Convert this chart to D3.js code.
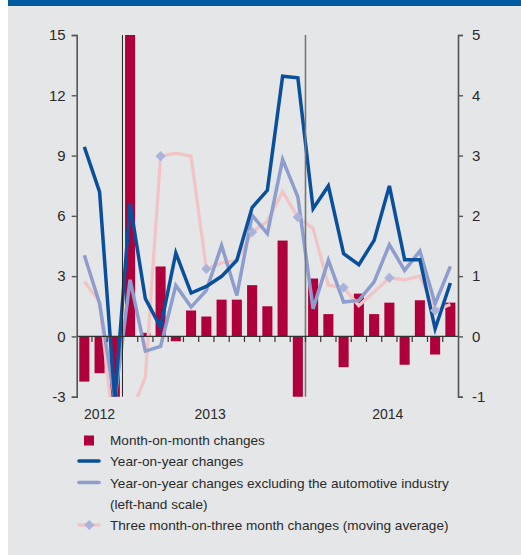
<!DOCTYPE html>
<html><head><meta charset="utf-8">
<script src="https://cdn.jsdelivr.net/npm/d3@7"></script>
<style>
html,body{margin:0;padding:0;background:#fff;}
svg{display:block;font-family:"Liberation Sans",Arial,sans-serif;}
</style></head>
<body>
<svg id="c" width="521" height="555"></svg>
<script>
const months = ["2012-10","2012-11","2012-12",
  "2013-01","2013-02","2013-03","2013-04","2013-05","2013-06","2013-07","2013-08","2013-09","2013-10","2013-11","2013-12",
  "2014-01","2014-02","2014-03","2014-04","2014-05","2014-06","2014-07","2014-08","2014-09","2014-10"];
// month-on-month changes (right-hand scale)
const momValues = [-0.75,-0.61,-1.05,5.3,0.06,1.16,-0.08,0.43,0.33,0.61,0.61,0.85,0.50,1.59,-1.01,0.96,0.37,-0.51,0.71,0.37,0.56,-0.47,0.60,-0.30,0.56];
// year-on-year changes (left-hand scale)
const yoyValues = [9.43,7.19,-3.2,6.6,1.88,0.46,4.15,2.16,2.49,2.99,3.79,6.41,7.27,12.95,12.87,6.36,7.49,4.12,3.57,4.78,7.49,3.82,3.82,0.38,2.66];
// year-on-year excluding automotive (left-hand scale)
const yoyExAutoValues = [4.04,1.64,-3.2,2.82,-0.73,-0.5,2.54,1.46,2.29,4.53,2.04,6.03,5.12,8.8,6.94,1.38,3.79,1.71,1.79,2.71,4.57,3.29,4.25,1.63,3.49];
// three month-on-three month changes (right-hand scale)
const threeMonthValues = [0.91,0.57,-1.74,-1.3,-0.68,2.99,3.04,2.99,1.12,1.22,1.26,1.73,1.91,2.40,1.98,1.79,0.85,0.81,0.51,0.74,0.97,0.94,1.00,0.43,0.53];
const diamondMonths = ["2012-12","2013-03","2013-06","2013-09","2013-12","2014-03","2014-06","2014-09"];
const leftTicks = [-3,0,3,6,9,12,15];
const rightTicks = [-1,0,1,2,3,4,5];
const yearLabels = ["2012","2013","2014"];
const yearLabelPos = [1.5, 8.75, 20.4];   // position in month-index units
const yearBreaks = ["2013-01","2014-01"];
const legendItems = ["Month-on-month changes","Year-on-year changes",
  "Year-on-year changes excluding the automotive industry","(left-hand scale)",
  "Three month-on-three month changes (moving average)"];

const C = {bar:"#b0003b", dark:"#0a4f9c", light:"#8d9dcd", pink:"#f1c5c5", dia:"#a9b4dc", text:"#2a2a2a", bg:"#e5e6e8", top:"#005aa0"};
const svg = d3.select("#c");
svg.append("rect").attr("x",8).attr("y",0).attr("width",513).attr("height",555).attr("fill",C.bg);
svg.append("rect").attr("x",8).attr("y",0).attr("width",513).attr("height",6).attr("fill",C.top);

const X0 = 76.7, X1 = 458, Y0 = 35, Y1 = 396.7;
const x = d3.scaleBand().domain(months).range([X0,X1]).paddingInner(0.34).paddingOuter(0.17);
const step = x.step();
const cx = m => x(m) + x.bandwidth()/2;
const yL = d3.scaleLinear().domain([-3,15]).range([Y1,Y0]);
const yR = d3.scaleLinear().domain([-1,5]).range([Y1,Y0]);

svg.append("clipPath").attr("id","clip").append("rect").attr("x",X0).attr("y",Y0).attr("width",X1-X0).attr("height",Y1-Y0);
const plot = svg.append("g").attr("clip-path","url(#clip)");

// bars
plot.selectAll("rect.bar").data(months).join("rect")
  .attr("x", m=>x(m)).attr("width", x.bandwidth())
  .attr("y", (m,i)=>yR(Math.max(0,momValues[i])))
  .attr("height", (m,i)=>Math.abs(yR(momValues[i])-yR(0)))
  .attr("fill", C.bar);

// year separators
yearBreaks.forEach((m,k)=>{
  const xx = cx(m) - step/2;
  svg.append("line").attr("x1",xx).attr("x2",xx).attr("y1",Y0).attr("y2",Y1)
    .attr("stroke", k===0 ? "#222" : "#777").attr("stroke-width", k===0 ? 1 : 1.6);
});

const line = (vals, sc) => d3.line().x((d,i)=>cx(months[i])).y(d=>sc(d))(vals);
plot.append("path").attr("d", line(threeMonthValues,yR)).attr("fill","none").attr("stroke",C.pink).attr("stroke-width",3.3);
plot.append("path").attr("d", line(yoyExAutoValues,yL)).attr("fill","none").attr("stroke",C.light).attr("stroke-width",3.5);
plot.append("path").attr("d", line(yoyValues,yL)).attr("fill","none").attr("stroke",C.dark).attr("stroke-width",3.5);
plot.selectAll("path.dia").data(diamondMonths).join("path")
  .attr("transform", m=>`translate(${cx(m)},${yR(threeMonthValues[months.indexOf(m)])}) rotate(45)`)
  .attr("d", d3.symbol().type(d3.symbolSquare).size(52)).attr("fill",C.dia);

// zero line + month ticks
svg.append("line").attr("x1",X0).attr("x2",X1).attr("y1",yL(0)).attr("y2",yL(0)).attr("stroke","#333").attr("stroke-width",1.2);
svg.selectAll("line.mt").data(months.slice(1)).join("line")
  .attr("x1", m=>cx(m)-step/2).attr("x2", m=>cx(m)-step/2)
  .attr("y1", yL(0)).attr("y2", yL(0)+5.5).attr("stroke","#333").attr("stroke-width",1.2);

// axes
const axL = svg.append("g").attr("transform",`translate(${X0},0)`)
  .call(d3.axisLeft(yL).tickValues(leftTicks).tickSize(5).tickPadding(6).tickFormat(d3.format("d")));
const axR = svg.append("g").attr("transform",`translate(${X1},0)`)
  .call(d3.axisRight(yR).tickValues(rightTicks).tickSize(5).tickPadding(9).tickFormat(d=>d<0?"-"+Math.abs(d):d));
[axL,axR].forEach(a=>{
  a.select(".domain").attr("stroke","#555").attr("stroke-width",1.6);
  a.selectAll(".tick line").attr("stroke","#555").attr("stroke-width",1.4);
  a.selectAll(".tick text").attr("fill",C.text).attr("font-size",15).attr("font-family","Liberation Sans, Arial, sans-serif");
});
axL.selectAll(".tick text").text(d=>d<0?"-"+Math.abs(d):d);

// year labels
const xi = d3.scaleLinear().domain([0,months.length]).range([X0,X1]);
svg.selectAll("text.yr").data(yearLabels).join("text")
  .attr("x",(d,i)=>xi(yearLabelPos[i])).attr("y",419).attr("text-anchor","middle")
  .attr("font-size",14).attr("fill",C.text).text(d=>d);

// legend
const lg = svg.append("g");
const rowY = [445,466,487.5,509,530];
lg.append("rect").attr("x",84).attr("y",435.5).attr("width",10).attr("height",10).attr("fill",C.bar);
lg.append("line").attr("x1",79).attr("x2",99).attr("y1",461).attr("y2",461).attr("stroke",C.dark).attr("stroke-width",3.6).attr("stroke-linecap","round");
lg.append("line").attr("x1",79).attr("x2",99).attr("y1",482.5).attr("y2",482.5).attr("stroke",C.light).attr("stroke-width",3.6).attr("stroke-linecap","round");
lg.append("line").attr("x1",79).attr("x2",99).attr("y1",525).attr("y2",525).attr("stroke",C.pink).attr("stroke-width",3.6).attr("stroke-linecap","round");
lg.append("path").attr("transform","translate(89.3,525) rotate(45)").attr("d", d3.symbol().type(d3.symbolSquare).size(52)).attr("fill",C.dia);
lg.selectAll("text").data(legendItems).join("text")
  .attr("x",110).attr("y",(d,i)=>rowY[i]).attr("font-size",13.6).attr("fill",C.text).text(d=>d);
</script>
</body></html>
